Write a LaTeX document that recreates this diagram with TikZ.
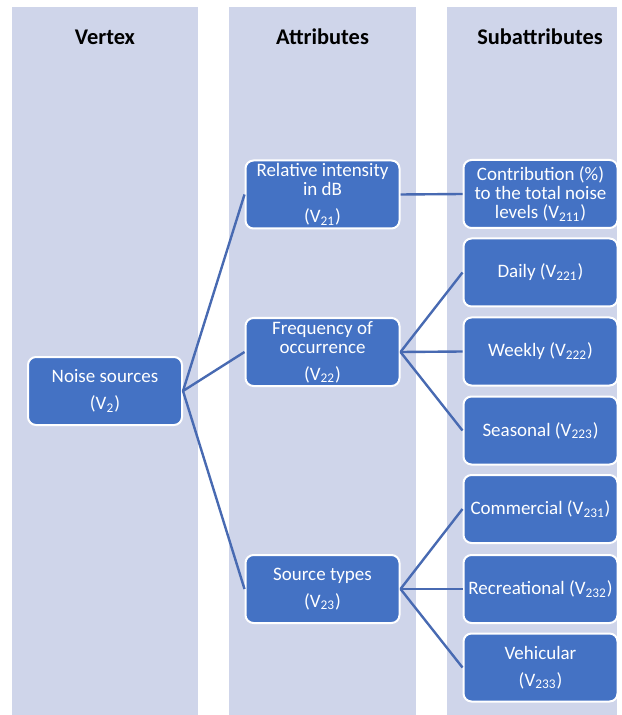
\documentclass[tikz,border=0pt]{standalone}
\usepackage{fontspec}
\setmainfont{Carlito}
\usetikzlibrary{positioning}
\definecolor{colbg}{RGB}{207,213,234}
\definecolor{boxblue}{RGB}{68,114,196}
\definecolor{linkblue}{RGB}{72,106,178}
\tikzset{
    column bg/.style={fill=colbg},
    head/.style={font=\bfseries\fontsize{11.2}{13}\selectfont},
    vbox/.style={
        draw=white,line width=1pt,rounded corners=4pt,
        fill=boxblue,text=white,align=center,
        minimum width=77pt,minimum height=34pt,inner sep=1pt,
        font=\fontsize{9.5}{9.5}\selectfont
    },
    link/.style={draw=linkblue,line width=1.2pt},
}

\begin{document}
\begin{tikzpicture}[x=0.5pt,y=-0.5pt]
		\useasboundingbox (0,0) rectangle (621,715);
		\foreach \a/\b in {11.5/198,229/416,447/617}
		\fill[column bg] (\a,7.5) rectangle (\b,715);
		\node[head] (hvertex) at (105,37) {Vertex};
		\node[head] (hattr) at (322.5,37) {Attributes};
		\node[head] (hsub) at (540,37) {Subattributes};

		\node[vbox] (noise) at (105,391) {Noise sources\\[4pt](V\textsubscript{2})};
		\node[vbox] (rel) at (322.5,194.5) {Relative intensity\\in dB\\[4pt](V\textsubscript{21})};
		\node[vbox] (freq) at (322.5,352) {Frequency of\\occurrence\\[4pt](V\textsubscript{22})};
		\node[vbox] (src) at (322.5,589) {Source types\\[4pt](V\textsubscript{23})};

		\node[vbox] (contrib) at (540.5,194) {Contribution (\%)\\to the total noise\\levels (V\textsubscript{211})};
		\node[vbox] (daily) at (540.5,272.5) {Daily (V\textsubscript{221})};
		\node[vbox] (weekly) at (540.5,351.5) {Weekly (V\textsubscript{222})};
		\node[vbox] (seasonal) at (540.5,430.5) {Seasonal (V\textsubscript{223})};
		\node[vbox] (comm) at (540.5,509) {Commercial (V\textsubscript{231})};
		\node[vbox] (recr) at (540.5,589) {Recreational (V\textsubscript{232})};
		\node[vbox] (vehic) at (540.5,667.5) {Vehicular\\[4pt](V\textsubscript{233})};

		\foreach \from/\to in {noise/rel,noise/freq,noise/src,rel/contrib,
			freq/daily,freq/weekly,freq/seasonal,src/comm,src/recr,src/vehic}
		\draw[link] (\from.east) -- (\to.west);
	\end{tikzpicture}
\end{document}
